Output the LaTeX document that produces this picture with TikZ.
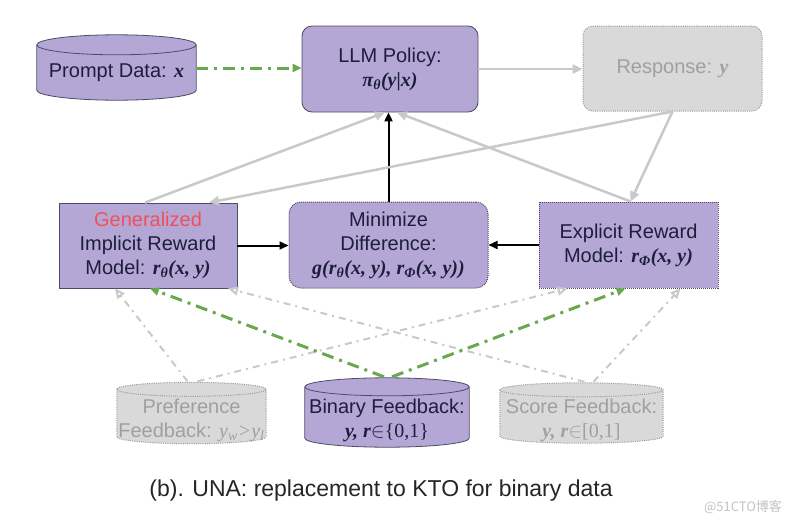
\documentclass[tikz,border=0pt]{standalone}
\usepackage{fontspec}
\setmainfont{Liberation Sans}
\newfontfamily\mf{Liberation Serif}
\newfontfamily\cjkf{Noto Sans CJK SC}
\usetikzlibrary{arrows.meta,calc}
\pgfdeclarelayer{bgwhite}
\pgfdeclarelayer{bg}
\pgfsetlayers{bgwhite,bg,main}
\definecolor{pfill}{HTML}{B4A7D6}
\definecolor{pdraw}{HTML}{4F4A66}
\definecolor{gfill}{HTML}{D9D9D9}
\definecolor{gdraw}{HTML}{9A9A9A}
\definecolor{gtext}{HTML}{A0A0A0}
\definecolor{ink}{HTML}{1E1E3C}
\definecolor{grn}{HTML}{6AA84F}
\definecolor{lgray}{HTML}{C9C9C9}
\definecolor{redt}{HTML}{F0505A}
\definecolor{captext}{HTML}{262626}
\definecolor{wmtext}{HTML}{C4C4C4}
\newcommand\mv[1]{{\mf\bfseries\itshape #1}}
% #1 node, #2 ellipse y radius, #3 style, #4 upward shift of the drum against the text node
\newcommand\cylshape[4]{%
\begin{pgfonlayer}{bg}
\path[#3] let \p1=(#1.north west), \p2=(#1.south east), \n1={(\x2-\x1)/2} in
 (\x1,{\y1+#4}) -- (\x1,{\y2+#2+#4}) arc[start angle=180,end angle=360,x radius=\n1,y radius=#2]
 -- (\x2,{\y1+#4}) arc[start angle=0,end angle=180,x radius=\n1,y radius=#2] -- cycle
 (\x1,{\y1+#4}) arc[start angle=180,end angle=360,x radius=\n1,y radius=#2];
\end{pgfonlayer}}
\begin{document}
\begin{tikzpicture}[x=1pt,y=-1pt,
  txt/.style={align=center, inner sep=0pt, text=ink, font=\fontsize{20}{24}\selectfont},
  box/.style={txt, draw=pdraw, line width=0.8pt, fill=pfill},
  dotbox/.style={box, line width=1pt, dash pattern=on 1pt off 1pt},
  gbox/.style={box, draw=gdraw, fill=gfill, text=gtext, line width=1pt, dash pattern=on 1pt off 1.2pt},
  cylp/.style={fill=pfill, draw=pdraw, line width=0.8pt},
  cylg/.style={fill=gfill, draw=gdraw, line width=1pt, dash pattern=on 1pt off 1.2pt},
  blk/.style={-{Triangle[length=9pt,width=8pt]}, line width=2pt, black},
  gry/.style={-{Triangle[length=10pt,width=9pt]}, line width=2.5pt, lgray},
  greenarrow/.style={-{Triangle[length=9pt,width=8pt]}, line width=3pt, grn, dash pattern=on 12pt off 6pt on 3pt off 6pt},
  gdd/.style={-{Triangle[open,length=10pt,width=9pt]}, line width=2pt, lgray, dash pattern=on 7pt off 5pt on 2pt off 5pt}]
\begin{pgfonlayer}{bgwhite}
\fill[white] (0,0) rectangle (798,517);
\end{pgfonlayer}
\useasboundingbox (0,0) rectangle (798,517);

% top row
\node[txt, minimum width=159pt, minimum height=55pt] (prompt) at (116.5,72.5) {Prompt Data: \mv{x}};
\cylshape{prompt}{10pt}{cylp}{0pt}
\node[box, rounded corners=10pt, minimum width=176pt, minimum height=86pt] (llm) at (390,69) {LLM Policy:\\\mv{π\textsubscript{θ}(y|x)}};
\node[gbox, rounded corners=10pt, minimum width=179pt, minimum height=85pt] (resp) at (672.5,68.5) {Response: \mv{y}};

% middle row
\node[box, minimum width=178pt, minimum height=85pt] (impl) at (148,245.5) {\textcolor{redt}{Generalized}\\Implicit Reward\\Model: \mv{r\textsubscript{θ}(x, y)}};
\node[dotbox, rounded corners=12pt, minimum width=199pt, minimum height=86pt] (mind) at (388.5,245) {Minimize\\Difference:\\\mv{g(r\textsubscript{θ}(x, y), r\textsubscript{Φ}(x, y))}};
\node[dotbox, minimum width=179pt, minimum height=86pt] (expl) at (628.5,245) {Explicit Reward\\Model: \mv{r\textsubscript{Φ}(x, y)}};

% bottom row
\node[txt, text=gtext, minimum width=149pt, minimum height=54pt] (pref) at (191.5,420.5) {Preference\\Feedback: {\mf\itshape y\textsubscript{w}>y\textsubscript{l}}};
\cylshape{pref}{7pt}{cylg}{4pt}
\node[txt, minimum width=164pt, minimum height=60pt] (bin) at (387,420) {Binary Feedback:\\\mv{y, r}$\in${\mf\{0,1\}}};
\cylshape{bin}{9pt}{cylp}{3pt}
\node[txt, text=gtext, minimum width=163pt, minimum height=53pt] (score) at (581.5,420.5) {Score Feedback:\\\mv{y, r}$\in${\mf[0,1]}};
\cylshape{score}{7pt}{cylg}{4pt}

% caption and mark
\node[font=\fontsize{23}{27}\selectfont, text=captext] (cap) at (381,491) {(b). UNA: replacement to KTO for binary data};
\node[font=\cjkf\fontsize{13}{15}\selectfont, text=wmtext] (wm) at (743,507) {@51CTO博客};

% connectors top
\draw[greenarrow] ([yshift=4.5pt]prompt.east) -- ([yshift=4.5pt]prompt.east -| llm.west);
\draw[gry] (llm.east) -- (llm.east -| resp.west);
\draw[blk] (mind.north) -- (mind.north |- llm.south);
\draw[blk] (impl.east) -- (impl.east -| mind.west);
\draw[blk] (expl.west) -- (expl.west -| mind.east);
\draw[gry] ([xshift=-3pt]impl.north) -- ([xshift=-5pt]llm.south);
\draw[gry] (resp.south) -- ([xshift=61pt]impl.north);
\draw[gry] ([xshift=2pt]expl.north) -- ([xshift=7pt]llm.south);
\draw[gry] (resp.south) -- ([xshift=2pt]expl.north);

% connectors bottom
\draw[gdd] ([xshift=-4pt,yshift=12pt]pref.north) -- ([xshift=-33pt]impl.south);
\draw[gdd] ([xshift=6pt,yshift=12pt]pref.north) -- ([xshift=-61pt]expl.south);
\draw[gdd] ([xshift=3pt,yshift=12pt]score.north) -- ([xshift=80pt]impl.south);
\draw[gdd] ([xshift=12pt,yshift=12pt]score.north) -- ([xshift=52pt]expl.south);
\draw[greenarrow] ([xshift=-3pt,yshift=13pt]bin.north) -- ([xshift=2pt]impl.south);
\draw[greenarrow] ([xshift=5pt,yshift=13pt]bin.north) -- ([xshift=-3pt]expl.south);
\end{tikzpicture}
\end{document}
